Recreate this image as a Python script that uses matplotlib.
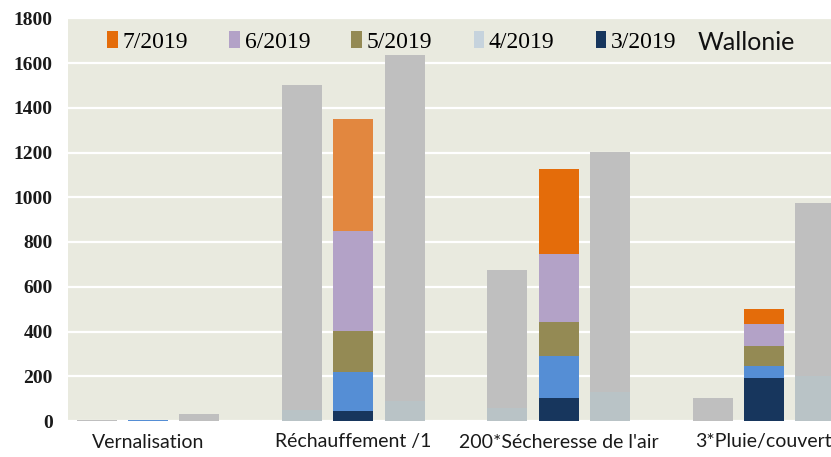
import numpy as np
import matplotlib.pyplot as plt
from matplotlib.patches import Patch


categories = ["Vernalisation", "Réchauffement /1", "200*Sécheresse de l'air", "3*Pluie/couvert"]
months = ["7/2019", "6/2019", "5/2019", "4/2019", "3/2019"]

# middle stacked bar, segment heights per month
mar_2019 = [2, 46, 104, 192]
apr_2019 = [3, 171, 186, 55]
may_2019 = [0, 185, 154, 88]
jun_2019 = [0, 447, 302, 98]
jul_2019 = [0, 501, 380, 67]

# grey reference bars either side (total, light bottom part)
left_total = [6, 1500, 675, 104]
left_base = [0, 50, 60, 0]
right_total = [30, 1636, 1204, 973]
right_base = [0, 90, 130, 200]

yticks = [0, 200, 400, 600, 800, 1000, 1200, 1400, 1600, 1800]

grey = "#BFBFBF"
light = "#B9C3C6"
navy = "#17365D"
blue = "#558ED5"
olive = "#948A54"
lilac = "#B3A2C7"
orange = ["#E46C0A", "#E2873F", "#E46C0A", "#E46C0A"]
legend_colors = ["#E46C0A", "#B3A2C7", "#948A54", "#C6D3DD", "#17365D"]

fig = plt.figure(figsize=(8.31, 4.57), dpi=100)
ax = fig.add_axes([68/831, 36/457, 1 - 68/831, (457 - 18.25)/457 - 36/457])
ax.set_facecolor("#E9EADF")

x = np.arange(len(categories))
w = 0.195
off = 0.25

# left / right grey bars
lt = np.array(left_total); lb = np.array(left_base)
rt = np.array(right_total); rb = np.array(right_base)
ax.bar(x - off, lb, w, color=light, zorder=2)
ax.bar(x - off, lt - lb, w, bottom=lb, color=grey, zorder=2)
ax.bar(x + off, rb, w, color=light, zorder=2)
ax.bar(x + off, rt - rb, w, bottom=rb, color=grey, zorder=2)

# middle stacked bar
bottom = np.zeros(len(categories))
for vals, col in [(mar_2019, navy), (apr_2019, blue), (may_2019, olive),
                  (jun_2019, lilac), (jul_2019, orange)]:
    ax.bar(x, vals, w, bottom=bottom, color=col, zorder=2)
    bottom += np.array(vals)

ax.set_ylim(0, 1800)
ax.set_xlim(-0.39, 3.327)
ax.set_yticks(yticks)
ax.set_yticklabels([str(v) for v in yticks], family="Liberation Serif", fontsize=14,
                   color="#1a1a1a", fontweight="bold")
ax.set_xticks(x)
ax.set_xticklabels(categories, family="Lato", fontsize=14, color="#1a1a1a")
ax.tick_params(length=0)
ax.tick_params(axis="y", pad=11)
ax.tick_params(axis="x", pad=9)
ax.grid(axis="y", color="white", linewidth=1.6, zorder=1)
ax.set_axisbelow(True)
for s in ax.spines.values():
    s.set_visible(False)

handles = [Patch(facecolor=c, edgecolor="none") for c in legend_colors]
fig.legend(handles, months, loc="upper left", bbox_to_anchor=(107/831, 1 - 31/457),
           ncol=5, frameon=False, prop={"family": "Liberation Serif", "size": 17},
           handlelength=0.45, handleheight=0.7, handletextpad=0.2, columnspacing=1.75,
           borderpad=0, borderaxespad=0)
fig.text(698/831, 1 - 43/457, "Wallonie", family="Lato", fontsize=18, color="#111111",
         va="center", ha="left")

fig.savefig("out.png", dpi=100)
